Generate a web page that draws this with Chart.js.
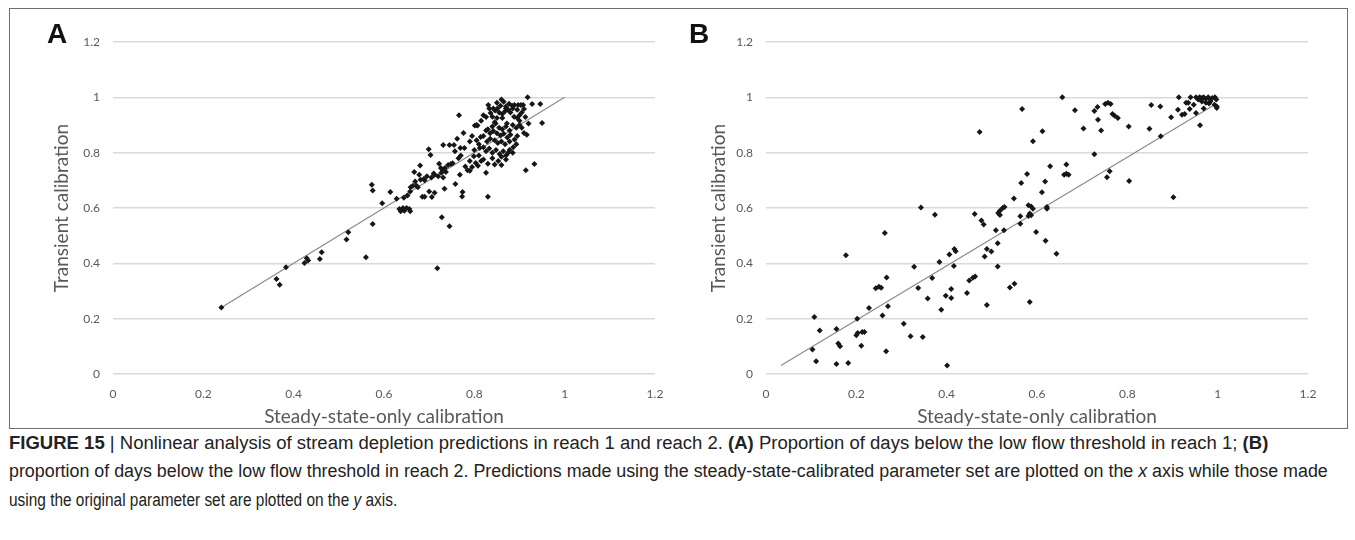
<!DOCTYPE html>
<html>
<head>
<meta charset="utf-8">
<script src="https://cdn.jsdelivr.net/npm/chart.js@4.4.1/dist/chart.umd.min.js"></script>
<style>
  html, body { margin: 0; padding: 0; background: #fff; }
  body { width: 1355px; height: 540px; position: relative; overflow: hidden; font-family: 'Liberation Sans', Arial, sans-serif; }
  .frame { position: absolute; left: 9px; top: 8px; width: 1339px; height: 421px; border: 1px solid #6e6e6e; box-sizing: border-box; }
  .panel { position: absolute; top: 0; height: 432px; }
  .tag { position: absolute; top: 20px; font: bold 28px/28px 'Liberation Sans', Arial, sans-serif; color: #111; }
  .caption-line { position: absolute; left: 9px; height: 22px; line-height: 22px; font-family: 'Liberation Sans Narrow', 'Arial Narrow', 'Liberation Sans', sans-serif; font-size: 18px; color: #222; white-space: nowrap; transform-origin: 0 50%; }
</style>
</head>
<body>
<div class="frame"></div>
<div class="panel" style="left:0; width:677px;"><canvas id="chart-a"></canvas></div>
<div class="panel" style="left:677px; width:678px;"><canvas id="chart-b"></canvas></div>
<div class="tag" style="left:47px;">A</div>
<div class="tag" style="left:689px;">B</div>

<div class="caption-line" data-right="1268" style="top:432px;"><b>FIGURE 15</b> | Nonlinear analysis of stream depletion predictions in reach 1 and reach 2. <b>(A)</b> Proportion of days below the low flow threshold in reach 1; <b>(B)</b></div>
<div class="caption-line" data-right="1328" style="top:460px;">proportion of days below the low flow threshold in reach 2. Predictions made using the steady-state-calibrated parameter set are plotted on the <i>x</i> axis while those made</div>
<div class="caption-line" data-right="397" style="top:489px;">using the original parameter set are plotted on the <i>y</i> axis.</div>

<script>
// Axis ticks shared by both panels
const tickValues = [0, 0.2, 0.4, 0.6, 0.8, 1, 1.2];
const xTitle = 'Steady-state-only calibration';
const yTitle = 'Transient calibration';

// Panel A: reach 1 [steady-state-only, transient]
const reach1Points = [
  [0.24,0.24],[0.362,0.343],[0.369,0.323],[0.383,0.386],[0.424,0.401],[0.429,0.418],[0.432,0.41],
  [0.458,0.416],[0.462,0.44],[0.517,0.486],[0.521,0.512],[0.56,0.422],[0.575,0.542],[0.573,0.684],
  [0.575,0.663],[0.596,0.617],[0.614,0.658],[0.634,0.596],[0.637,0.588],[0.642,0.6],[0.644,0.637],
  [0.656,0.596],[0.658,0.588],[0.659,0.675],[0.667,0.73],[0.669,0.696],[0.675,0.675],[0.681,0.702],
  [0.68,0.754],[0.685,0.641],[0.69,0.641],[0.70,0.66],[0.699,0.812],[0.703,0.792],[0.712,0.72],
  [0.718,0.382],[0.72,0.715],[0.722,0.76],[0.726,0.745],[0.727,0.727],[0.728,0.567],[0.734,0.67],
  [0.731,0.71],[0.737,0.73],[0.745,0.534],[0.758,0.687],[0.773,0.642],[0.774,0.658],[0.766,0.935],
  [0.742,0.755],[0.752,0.762],[0.748,0.759],[0.731,0.828],[0.745,0.828],[0.755,0.828],[0.762,0.85],
  [0.769,0.817],[0.778,0.817],[0.776,0.871],[0.78,0.75],[0.785,0.736],[0.799,0.787],[0.803,0.763],
  [0.808,0.753],[0.801,0.898],[0.807,0.898],[0.812,0.817],[0.814,0.857],[0.826,0.727],[0.83,0.641],
  [0.826,0.929],[0.831,0.972],[0.826,0.88],[0.836,0.943],[0.846,0.952],[0.851,0.96],[0.86,0.992],
  [0.865,0.984],[0.870,0.967],[0.877,0.977],[0.884,0.97],[0.889,0.972],[0.897,0.972],[0.903,0.972],
  [0.908,0.972],[0.918,1.0],[0.928,0.976],[0.946,0.976],[0.95,0.907],[0.913,0.929],[0.91,0.871],
  [0.916,0.865],[0.914,0.736],[0.933,0.759],
  [0.84,0.93],[0.845,0.91],[0.85,0.925],[0.855,0.945],[0.862,0.94],[0.868,0.95],[0.875,0.955],
  [0.88,0.945],[0.888,0.93],[0.895,0.925],[0.862,0.925],[0.872,0.905],[0.84,0.895],[0.847,0.905],
  [0.855,0.89],[0.862,0.885],[0.87,0.895],[0.878,0.88],[0.885,0.9],[0.893,0.89],[0.90,0.915],
  [0.83,0.885],[0.835,0.87],[0.842,0.878],[0.85,0.87],[0.858,0.862],[0.865,0.868],[0.873,0.855],
  [0.88,0.865],[0.889,0.848],[0.895,0.86],[0.82,0.86],[0.828,0.84],[0.835,0.85],[0.845,0.845],
  [0.852,0.835],[0.86,0.84],[0.868,0.83],[0.878,0.84],[0.886,0.82],[0.893,0.83],[0.82,0.82],
  [0.826,0.805],[0.833,0.815],[0.84,0.8],[0.848,0.81],[0.856,0.795],[0.864,0.805],[0.87,0.79],
  [0.878,0.81],[0.885,0.8],[0.84,0.78],[0.853,0.77],[0.86,0.785],[0.87,0.775],[0.81,0.79],
  [0.815,0.77],[0.82,0.775],[0.83,0.76],[0.845,0.757],[0.86,0.755],[0.875,0.8],[0.79,0.84],
  [0.795,0.86],[0.805,0.845],[0.81,0.83],[0.8,0.81],[0.79,0.77],[0.765,0.78],[0.77,0.79],
  [0.757,0.805],[0.735,0.745],[0.73,0.735],[0.71,0.725],[0.705,0.71],[0.695,0.715],[0.688,0.705],
  [0.69,0.70],[0.678,0.72],[0.672,0.68],[0.664,0.68],[0.658,0.66],[0.652,0.645],[0.628,0.633],
  [0.645,0.59],[0.65,0.6],[0.706,0.64],[0.712,0.655],[0.768,0.72],[0.79,0.735],[0.795,0.748],
  [0.805,0.9],[0.815,0.915],[0.82,0.935],[0.9,0.935],[0.905,0.945],[0.91,0.958],[0.895,0.955],
  [0.885,0.96],[0.87,0.96],[0.858,0.97],[0.85,0.98],[0.842,0.96],[0.833,0.96],[0.9,0.9],
  [0.905,0.89],[0.92,0.905]
];
const reach1Trend = [[0.24, 0.24], [1.0, 1.0]];

// Panel B: reach 2 [steady-state-only, transient]
const reach2Points = [
  [0.656,1.0],[0.567,0.958],[0.473,0.875],[0.612,0.877],[0.591,0.841],[0.684,0.953],[0.703,0.887],
  [0.727,0.951],[0.734,0.965],[0.735,0.919],[0.742,0.88],[0.751,0.976],[0.757,0.98],[0.763,0.976],
  [0.767,0.94],[0.772,0.933],[0.779,0.925],[0.803,0.895],[0.727,0.794],[0.761,0.733],[0.755,0.711],
  [0.804,0.698],[0.849,0.886],[0.853,0.972],[0.873,0.967],[0.874,0.859],[0.902,0.639],[0.897,0.928],
  [0.912,0.955],[0.914,1.0],[0.921,0.937],[0.927,0.94],[0.93,0.98],[0.935,0.98],[0.938,0.958],
  [0.94,1.0],[0.947,0.973],[0.952,0.943],[0.952,1.0],[0.96,1.0],[0.965,0.998],[0.969,1.0],
  [0.974,0.994],[0.979,1.0],[0.984,0.992],[0.988,0.998],[0.994,1.0],[0.997,0.992],[0.957,0.992],
  [0.965,0.985],[0.974,0.98],[0.984,0.985],[0.993,0.973],[0.998,0.967],[0.998,0.961],[0.969,0.96],
  [0.961,0.899],[0.981,0.978],[0.629,0.751],[0.665,0.757],[0.66,0.72],[0.665,0.724],[0.67,0.72],
  [0.578,0.723],[0.618,0.696],[0.611,0.657],[0.622,0.597],[0.622,0.604],[0.565,0.69],[0.549,0.634],
  [0.524,0.60],[0.528,0.604],[0.518,0.59],[0.514,0.582],[0.518,0.575],[0.509,0.52],[0.527,0.52],
  [0.581,0.61],[0.587,0.605],[0.584,0.58],[0.591,0.597],[0.581,0.571],[0.587,0.574],[0.563,0.57],
  [0.563,0.543],[0.598,0.513],[0.619,0.482],[0.643,0.435],[0.584,0.26],[0.54,0.313],[0.55,0.326],
  [0.513,0.473],[0.513,0.389],[0.462,0.578],[0.477,0.555],[0.482,0.54],[0.484,0.425],[0.489,0.452],
  [0.499,0.443],[0.489,0.249],[0.463,0.352],[0.458,0.348],[0.45,0.338],[0.445,0.293],[0.417,0.452],
  [0.42,0.444],[0.406,0.432],[0.416,0.39],[0.41,0.307],[0.41,0.275],[0.398,0.283],[0.384,0.405],
  [0.388,0.232],[0.401,0.031],[0.374,0.576],[0.343,0.602],[0.328,0.388],[0.337,0.311],[0.358,0.273],
  [0.368,0.347],[0.347,0.134],[0.32,0.136],[0.305,0.182],[0.263,0.51],[0.267,0.349],[0.27,0.245],
  [0.266,0.082],[0.243,0.31],[0.25,0.315],[0.255,0.312],[0.258,0.211],[0.228,0.239],[0.177,0.429],
  [0.202,0.2],[0.2,0.14],[0.203,0.148],[0.213,0.152],[0.218,0.152],[0.211,0.102],[0.156,0.163],
  [0.16,0.11],[0.164,0.1],[0.119,0.157],[0.107,0.206],[0.103,0.089],[0.111,0.046],[0.156,0.036],
  [0.182,0.04]
];
const reach2Trend = [[0.033, 0.031], [0.995, 0.975]];

const toXY = (pairs) => pairs.map(([x, y]) => ({ x, y }));
const tickLabel = (v) => String(+Number(v).toFixed(1));

// Build one Excel-like scatter panel; layout numbers place the plot area
function makePanel(canvasId, points, trend, padLeft, yAxisWidth, padRight) {
  const ctx = document.getElementById(canvasId).getContext('2d');
  return new Chart(ctx, {
    type: 'scatter',
    data: {
      datasets: [
        {
          data: toXY(trend),
          showLine: true,
          borderColor: '#8a8a8a',
          borderWidth: 1.2,
          pointRadius: 0,
          order: 2
        },
        {
          data: toXY(points),
          pointStyle: 'rectRot',
          pointRadius: 3,
          backgroundColor: '#161616',
          borderWidth: 0,
          order: 1
        }
      ]
    },
    options: {
      responsive: true,
      maintainAspectRatio: false,
      animation: false,
      layout: { padding: { left: padLeft, right: padRight, top: 42, bottom: 0 } },
      plugins: { legend: { display: false }, tooltip: { enabled: false } },
      scales: {
        x: {
          type: 'linear',
          min: 0,
          max: 1.2,
          afterBuildTicks: (s) => { s.ticks = tickValues.map(v => ({ value: v })); },
          afterFit: (s) => { s.height = 58; },
          grid: { display: false },
          border: { display: false },
          ticks: { color: '#595959', font: { family: 'Lato', size: 12 }, padding: 5, callback: tickLabel },
          title: { display: true, text: xTitle, color: '#595959', font: { family: 'Lato', size: 19 } }
        },
        y: {
          type: 'linear',
          min: 0,
          max: 1.2,
          afterBuildTicks: (s) => { s.ticks = tickValues.map(v => ({ value: v })); },
          afterFit: (s) => { s.width = yAxisWidth; },
          grid: { color: '#d9d9d9', lineWidth: 1.5, drawTicks: false },
          border: { display: false },
          ticks: { color: '#595959', font: { family: 'Lato', size: 12 }, padding: 13, callback: tickLabel },
          title: { display: true, text: yTitle, color: '#595959', font: { family: 'Lato', size: 19 } }
        }
      }
    }
  });
}

makePanel('chart-a', reach1Points, reach1Trend, 46, 67, 22);
makePanel('chart-b', reach2Points, reach2Trend, 26, 63, 47);

// The printed caption uses a condensed face: squeeze each line to where it ends in print
document.querySelectorAll('.caption-line').forEach(el => {
  const target = Number(el.dataset.right) - 9;
  const width = el.scrollWidth;
  if (width > 0) el.style.transform = `scaleX(${target / width})`;
});
</script>
</body>
</html>
